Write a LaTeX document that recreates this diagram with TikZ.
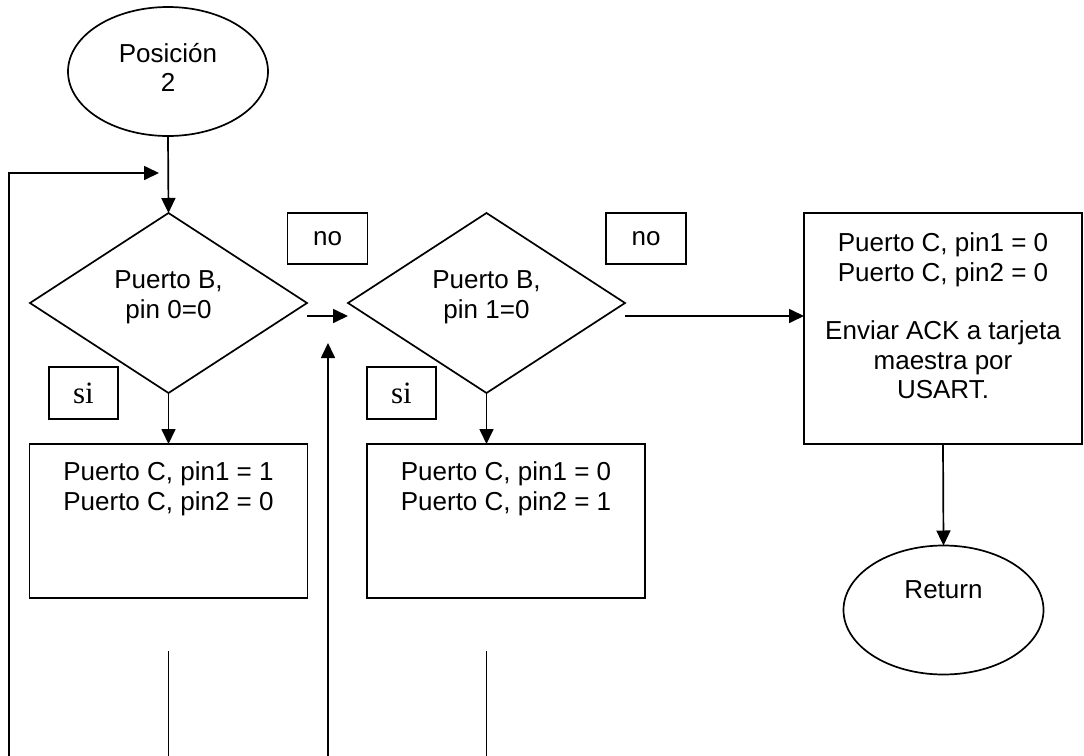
\documentclass[tikz,border=0pt]{standalone}
\usepackage{fontspec}
\setmainfont{Liberation Sans}
\newfontfamily\timesf{Liberation Serif}
\usetikzlibrary{shapes.geometric,arrows.meta,calc}
\begin{document}
\begin{tikzpicture}[x=1pt,y=-1pt,
  line width=1.7pt,
  every node/.style={inner sep=0pt, outer sep=0pt},
  txt/.style={font=\fontsize{26}{29.5}\selectfont, align=center},
  oval/.style={draw, ellipse, minimum width=200pt, minimum height=129pt},
  dia/.style={draw, diamond, minimum width=277pt, minimum height=180pt},
  bigbox/.style={draw, rectangle, minimum width=278pt},
  tag/.style={draw, rectangle, minimum width=80pt, minimum height=51pt, font=\fontsize{26}{29.5}\selectfont},
  sitag/.style={draw, rectangle, minimum width=69pt, minimum height=52pt, font=\timesf\fontsize{31}{35}\selectfont},
  arr/.style={-{Triangle[length=15pt,width=14pt]}}]
\useasboundingbox (0,0) rectangle (1084,755);
\clip (0,0) rectangle (1084,755);

% shapes
\node[oval, label={[txt, yshift=4pt]center:Posición\\2}] (start) at (168,71.5) {};
\node[dia, label={[txt, yshift=6pt]center:Puerto B,\\pin 0=0}] (d1) at (168.5,303) {};
\node[dia, label={[txt, yshift=6pt]center:Puerto B,\\pin 1=0}] (d2) at (486.5,303) {};
\node[bigbox, minimum height=154pt,
  label={[txt, anchor=north, yshift=-18pt]north:Puerto C, pin1 = 1\\Puerto C, pin2 = 0}] (b1) at (168.5,521) {};
\node[bigbox, minimum height=154pt,
  label={[txt, anchor=north, yshift=-18pt]north:Puerto C, pin1 = 0\\Puerto C, pin2 = 1}] (b2) at (506,521) {};
\node[bigbox, minimum height=231pt,
  label={[txt, anchor=north, yshift=-20pt]north:Puerto C, pin1 = 0\\Puerto C, pin2 = 0\\[29pt]Enviar ACK a tarjeta\\maestra por\\USART.}] (rb) at (943,328.5) {};
\node[oval, label={[txt, yshift=20pt]center:Return}] (ret) at (943.5,610) {};

% tags
\node[tag] (no1) at (327.5,238.5) {no};
\node[tag] (no2) at (646,238.5) {no};
\node[sitag] (si1) at (83.5,393) {si};
\node[sitag] (si2) at (401.5,393) {si};

% connectors
\draw[arr] (start.south) -- (d1.north);
\draw[arr] (d1.south) -- (b1.north);
\draw[arr] (d2.south) -- (d2.south |- b2.north);
\draw[arr] (rb.south) -- (ret.north);

\coordinate (n1) at ($(d1.east)+(0,13)$);
\coordinate (n1e) at ($(d2.west)+(0,13)$);
\draw[arr] (n1) -- (n1e);
\coordinate (n2) at ($(d2.east)+(0,13)$);
\draw[arr] (n2) -- (n2 -| rb.west);

% loop back from box 1
\coordinate (l1a) at ($(b1.south)+(0,53)$);
\coordinate (l1b) at ($(b1.south)+(0,165)$);
\coordinate (l1c) at (9,763);
\coordinate (l1d) at (9,173);
\coordinate (l1e) at ($(start.south)+(-9,37)$);
\draw[arr] (l1a) -- (l1b) -- (l1c) -- (l1d) -- (l1e);

% loop back from box 2
\coordinate (l2a) at ($(d2.south)+(0,258)$);
\coordinate (l2b) at ($(d2.south)+(0,372)$);
\coordinate (l2c) at (328,765);
\coordinate (l2d) at (328,343);
\draw[arr] (l2a) -- (l2b) -- (l2c) -- (l2d);
\end{tikzpicture}
\end{document}
